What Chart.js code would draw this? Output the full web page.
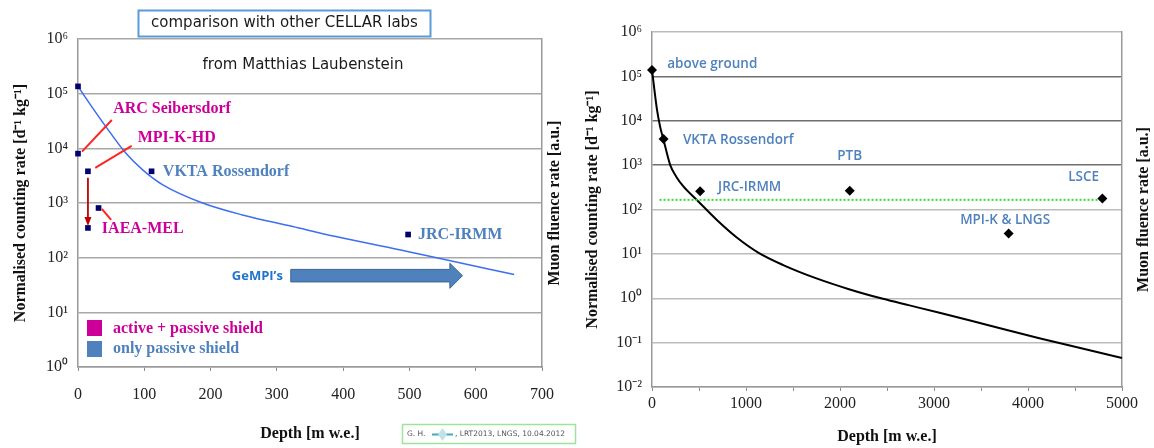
<!DOCTYPE html>
<html>
<head>
<meta charset="utf-8">
<script src="https://cdn.jsdelivr.net/npm/chart.js@4.4.1/dist/chart.umd.min.js"></script>
<style>
html,body{margin:0;padding:0;background:#fff;}
#wrap{position:relative;width:1154px;height:448px;overflow:hidden;}
.pane{position:absolute;top:0;height:448px;}
</style>
</head>
<body>
<div id="wrap">
  <div class="pane" style="left:0;width:578px;"><canvas id="c1"></canvas></div>
  <div class="pane" style="left:578px;width:576px;"><canvas id="c2"></canvas></div>
</div>
<script>
// ================= DATA =================
// Left panel: comparison with other CELLAR labs (depth 0..700 m w.e.)
const leftTickValues = [1, 10, 100, 1000, 10000, 100000, 1000000];
const leftTickLabels = ['10⁰', '10¹', '10²', '10³', '10⁴', '10⁵', '10⁶'];
const leftLabNames = ['above ground', 'ARC Seibersdorf', 'MPI-K-HD', 'MPI-K-HD (active)', 'IAEA-MEL', 'VKTA Rossendorf', 'JRC-IRMM'];
const leftLabDepth = [0, 0, 15, 15, 31, 111, 498];
const leftLabRate  = [136000, 8000, 3800, 350, 810, 3800, 265];
const leftCurveDepth = [0, 22, 42, 72, 98, 128, 188, 248, 324, 389, 497, 541, 658];
const leftCurveRate  = [136000, 55000, 25000, 8200, 4000, 2150, 1000, 605, 370, 243, 130, 100, 49];

// Right panel: labs vs depth (0..5000 m w.e.)
const rightTickValues = [0.01, 0.1, 1, 10, 100, 1000, 10000, 100000, 1000000];
const rightTickLabels = ['10⁻²', '10⁻¹', '10⁰', '10¹', '10²', '10³', '10⁴', '10⁵', '10⁶'];
const rightLabNames = ['above ground', 'VKTA Rossendorf', 'JRC-IRMM', 'PTB', 'MPI-K & LNGS', 'LSCE'];
const rightLabDepth = [0, 123, 512, 2104, 3794, 4791];
const rightLabRate  = [140000, 3900, 258, 265, 28.6, 178];
const rightCurveDepth = [0, 53, 88, 123, 194, 258, 336, 477, 690, 902, 1130, 1396, 1750, 2104, 2457, 2740, 3059, 3600, 4120, 4600, 5000];
const rightCurveRate  = [140000, 17800, 7100, 3700, 1000, 550, 327, 164, 58, 23.4, 10.7, 5.6, 2.8, 1.58, 0.97, 0.69, 0.47, 0.24, 0.126, 0.072, 0.045];
const levelDepth = [80, 4840];
const levelRate  = [165, 165];

// ================= STYLE / ANNOTATIONS =================
const SERIF = "'Liberation Serif','Times New Roman',serif";
const SANS = "'Open Sans','Noto Sans',sans-serif";
Chart.defaults.font.family = SERIF;
Chart.defaults.color = '#222';

const MAG = '#cc0099', STEEL = '#4f81bd';
const leftNotes = [
  {text: 'ARC Seibersdorf', x: 53, y: 53000, color: MAG},
  {text: 'MPI-K-HD', x: 90, y: 15600, color: MAG},
  {text: 'VKTA Rossendorf', x: 128, y: 3700, color: STEEL},
  {text: 'IAEA-MEL', x: 36, y: 336, color: MAG},
  {text: 'JRC-IRMM', x: 513, y: 261, color: STEEL}
];
const leftConnectors = [
  [6, 8700, 51, 33000],
  [26, 4400, 81, 11100],
  [36, 780, 50, 490]
];
const dropArrow = {x: 15, from: 2900, to: 380};
const gempi = {from: 321, headStart: 561, tip: 580, shaftTop: 61, shaftBottom: 36, headTop: 79, headBottom: 27.5, labelX: 232, labelY: 46};

const rightNotes = [
  {text: 'above ground', x: 162, y: 192000},
  {text: 'VKTA Rossendorf', x: 329, y: 3570},
  {text: 'JRC-IRMM', x: 703, y: 327},
  {text: 'PTB', x: 1971, y: 1560},
  {text: 'MPI-K & LNGS', x: 3278, y: 58},
  {text: 'LSCE', x: 4427, y: 542}
];

function pts(xs, ys) { return xs.map((x, i) => ({x: x, y: ys[i]})); }

function drawRightTitle(ctx, chart, x) {
  const ca = chart.chartArea;
  ctx.save();
  ctx.translate(x, (ca.top + ca.bottom) / 2);
  ctx.rotate(-Math.PI / 2);
  ctx.font = "bold 16px " + SERIF;
  ctx.fillStyle = '#111';
  ctx.textAlign = 'center';
  ctx.textBaseline = 'middle';
  ctx.fillText('Muon fluence rate [a.u.]', 0, 0);
  ctx.restore();
}

const leftDecor = {
  id: 'leftDecor',
  beforeDatasetsDraw(chart) {
    const ctx = chart.ctx, X = chart.scales.x, Y = chart.scales.y;
    const x0 = X.getPixelForValue(gempi.from), xh = X.getPixelForValue(gempi.headStart), xt = X.getPixelForValue(gempi.tip);
    const s1 = Y.getPixelForValue(gempi.shaftTop), s2 = Y.getPixelForValue(gempi.shaftBottom);
    const h1 = Y.getPixelForValue(gempi.headTop), h2 = Y.getPixelForValue(gempi.headBottom);
    const ym = (s1 + s2) / 2;
    ctx.save();
    ctx.beginPath();
    ctx.moveTo(x0, s1); ctx.lineTo(xh, s1); ctx.lineTo(xh, h1); ctx.lineTo(xt, ym);
    ctx.lineTo(xh, h2); ctx.lineTo(xh, s2); ctx.lineTo(x0, s2); ctx.closePath();
    ctx.fillStyle = '#4f81bd'; ctx.fill();
    ctx.strokeStyle = '#3a6592'; ctx.lineWidth = 1; ctx.stroke();
    ctx.font = "bold 13px " + SANS;
    ctx.fillStyle = '#1f74cc';
    ctx.textAlign = 'left'; ctx.textBaseline = 'middle';
    ctx.fillText('GeMPI’s', X.getPixelForValue(gempi.labelX), Y.getPixelForValue(gempi.labelY));
    ctx.restore();
  },
  afterDatasetsDraw(chart) {
    const ctx = chart.ctx, X = chart.scales.x, Y = chart.scales.y, ca = chart.chartArea;
    const P = (d, v) => [X.getPixelForValue(d), Y.getPixelForValue(v)];
    ctx.save();
    ctx.strokeStyle = '#ff2424'; ctx.lineWidth = 2;
    leftConnectors.forEach(c => {
      const a = P(c[0], c[1]), b = P(c[2], c[3]);
      ctx.beginPath(); ctx.moveTo(a[0], a[1]); ctx.lineTo(b[0], b[1]); ctx.stroke();
    });
    const a = P(dropArrow.x, dropArrow.from), b = P(dropArrow.x, dropArrow.to);
    ctx.strokeStyle = '#c00000'; ctx.fillStyle = '#c00000'; ctx.lineWidth = 1.8;
    ctx.beginPath(); ctx.moveTo(a[0], a[1]); ctx.lineTo(b[0], b[1] - 5); ctx.stroke();
    ctx.beginPath(); ctx.moveTo(b[0] - 3.5, b[1] - 9); ctx.lineTo(b[0], b[1]); ctx.lineTo(b[0] + 3.5, b[1] - 9); ctx.closePath(); ctx.fill();

    ctx.font = "bold 16px " + SERIF;
    ctx.textAlign = 'left'; ctx.textBaseline = 'middle';
    leftNotes.forEach(n => {
      const p = P(n.x, n.y);
      ctx.fillStyle = n.color;
      ctx.fillText(n.text, p[0], p[1]);
    });

    // legend
    const lx = ca.left + 9, ly1 = ca.bottom - 47, ly2 = ca.bottom - 26;
    ctx.fillStyle = MAG; ctx.fillRect(lx, ly1, 15, 16);
    ctx.fillStyle = STEEL; ctx.fillRect(lx, ly2, 15, 16);
    ctx.fillStyle = MAG; ctx.fillText('active + passive shield', lx + 26, ly1 + 9);
    ctx.fillStyle = STEEL; ctx.fillText('only passive shield', lx + 26, ly2 + 8);

    // subtitle inside plot
    ctx.font = "15px 'DejaVu Sans',sans-serif";
    ctx.fillStyle = '#1a1a1a'; ctx.textAlign = 'center';
    ctx.fillText('from Matthias Laubenstein', 303, 65);
    ctx.restore();
  },
  afterDraw(chart) {
    const ctx = chart.ctx;
    ctx.save();
    ctx.strokeStyle = '#5b9bd5'; ctx.lineWidth = 2;
    ctx.strokeRect(138.5, 10.5, 292, 26);
    ctx.font = "15px 'DejaVu Sans',sans-serif";
    ctx.fillStyle = '#1a1a1a'; ctx.textAlign = 'center'; ctx.textBaseline = 'middle';
    ctx.fillText('comparison with other CELLAR labs', 284.5, 23.5);
    ctx.restore();
    drawRightTitle(ctx, chart, 555);
    // footer stamp
    ctx.save();
    ctx.strokeStyle = '#9fe39a'; ctx.lineWidth = 1.5;
    ctx.strokeRect(402.5, 424.5, 173, 19);
    ctx.font = "7.5px 'DejaVu Sans',sans-serif";
    ctx.fillStyle = '#555'; ctx.textAlign = 'left'; ctx.textBaseline = 'middle';
    ctx.fillText('G. H.', 407, 434.5);
    ctx.strokeStyle = '#4aa8b0'; ctx.lineWidth = 2;
    ctx.beginPath(); ctx.moveTo(432, 434.5); ctx.lineTo(453, 434.5); ctx.stroke();
    ctx.fillStyle = '#bfe3e6';
    ctx.beginPath(); ctx.moveTo(442.5, 428); ctx.lineTo(447, 434.5); ctx.lineTo(442.5, 441); ctx.lineTo(438, 434.5); ctx.closePath(); ctx.fill();
    ctx.fillStyle = '#555';
    ctx.fillText(', LRT2013, LNGS, 10.04.2012', 455, 434.5);
    ctx.restore();
  }
};

const rightDecor = {
  id: 'rightDecor',
  afterDatasetsDraw(chart) {
    const ctx = chart.ctx, X = chart.scales.x, Y = chart.scales.y;
    ctx.save();
    ctx.font = "600 13.5px " + SANS;
    ctx.fillStyle = STEEL; ctx.textAlign = 'left'; ctx.textBaseline = 'middle';
    rightNotes.forEach(n => ctx.fillText(n.text, X.getPixelForValue(n.x), Y.getPixelForValue(n.y)));
    ctx.restore();
  },
  afterDraw(chart) {
    drawRightTitle(chart.ctx, chart, 566);
  }
};

const axisBorder = {color: '#9a9a9a', width: 1.5};

new Chart(document.getElementById('c1'), {
  type: 'scatter',
  data: {
    datasets: [
      {label: 'muon fluence', data: pts(leftCurveDepth, leftCurveRate), showLine: true, borderColor: '#3d6ef2',
       borderWidth: 1.5, pointRadius: 0, cubicInterpolationMode: 'monotone', clip: false, order: 2},
      {label: 'labs', data: pts(leftLabDepth, leftLabRate), pointStyle: 'rect', pointRadius: 4, pointHoverRadius: 4,
       backgroundColor: '#00006e', borderColor: '#00006e', borderWidth: 0, clip: false, order: 1}
    ]
  },
  options: {
    responsive: true, maintainAspectRatio: false, animation: false,
    layout: {padding: {top: 39, left: 6, right: 0, bottom: 0}},
    plugins: {legend: {display: false}, tooltip: {enabled: false}},
    scales: {
      x: {
        type: 'linear', min: 0, max: 700,
        afterFit(s) { s.height = 81; },
        ticks: {stepSize: 100, padding: 14, font: {size: 16}, color: '#222', maxRotation: 0, autoSkip: false},
        grid: {drawOnChartArea: false, drawTicks: true, tickLength: 4, color: '#8c8c8c'},
        border: axisBorder,
        title: {display: true, text: 'Depth [m w.e.]', font: {size: 16, weight: 'bold'}, color: '#111', padding: {top: 0, bottom: 5}}
      },
      y: {
        type: 'logarithmic', min: 1, max: 1000000,
        afterFit(s) { s.width = 72; },
        afterBuildTicks(s) { s.ticks = leftTickValues.map(v => ({value: v})); },
        ticks: {callback: (v) => { const i = leftTickValues.indexOf(v); return i >= 0 ? leftTickLabels[i] : ''; },
                padding: 10, font: {size: 16}, color: '#222', autoSkip: false},
        grid: {color: '#a8a8a8', lineWidth: 1.5, drawTicks: false},
        border: axisBorder,
        title: {display: true, text: 'Normalised counting rate [d⁻¹ kg⁻¹]', font: {size: 16, weight: 'bold'}, color: '#111', padding: {top: 5, bottom: 0}}
      },
      y2: {
        type: 'linear', position: 'right', min: 0, max: 1,
        afterFit(s) { s.width = 36; },
        ticks: {display: false}, grid: {display: false}, border: axisBorder
      }
    }
  },
  plugins: [leftDecor]
});

new Chart(document.getElementById('c2'), {
  type: 'scatter',
  data: {
    datasets: [
      {label: 'muon fluence', data: pts(rightCurveDepth, rightCurveRate), showLine: true, borderColor: '#000',
       borderWidth: 2, pointRadius: 0, cubicInterpolationMode: 'monotone', clip: false, order: 3},
      {label: 'level', data: pts(levelDepth, levelRate), showLine: true, borderColor: '#33dd33', borderWidth: 2,
       borderDash: [2, 2], pointRadius: 0, clip: false, order: 2},
      {label: 'labs', data: pts(rightLabDepth, rightLabRate), pointStyle: 'rectRot', pointRadius: 5, pointHoverRadius: 5,
       backgroundColor: '#000', borderColor: '#000', borderWidth: 0, clip: false, order: 1}
    ]
  },
  options: {
    responsive: true, maintainAspectRatio: false, animation: false,
    layout: {padding: {top: 32, left: 0, right: 0, bottom: 0}},
    plugins: {legend: {display: false}, tooltip: {enabled: false}},
    scales: {
      x: {
        type: 'linear', min: 0, max: 5000,
        afterFit(s) { s.height = 61; },
        ticks: {stepSize: 500, padding: 3, font: {size: 16}, color: '#222', maxRotation: 0, autoSkip: false,
                callback: (v) => (v % 1000 === 0 ? String(v) : '')},
        grid: {drawOnChartArea: false, drawTicks: true, tickLength: 4, color: '#8c8c8c'},
        border: axisBorder,
        title: {display: true, text: 'Depth [m w.e.]', font: {size: 16, weight: 'bold'}, color: '#111', padding: {top: 0, bottom: 2}}
      },
      y: {
        type: 'logarithmic', min: 0.01, max: 1000000,
        afterFit(s) { s.width = 74; },
        afterBuildTicks(s) { s.ticks = rightTickValues.map(v => ({value: v})); },
        ticks: {callback: (v) => { const i = rightTickValues.indexOf(v); return i >= 0 ? rightTickLabels[i] : ''; },
                padding: 10, font: {size: 16}, color: '#222', autoSkip: false},
        grid: {color: (c) => (c.tick && c.tick.value >= 1000 && c.tick.value <= 100000) ? '#6e6e6e' : '#bcbcbc',
               lineWidth: 1.5, drawTicks: false},
        border: axisBorder,
        title: {display: true, text: 'Normalised counting rate [d⁻¹ kg⁻¹]', font: {size: 16, weight: 'bold'}, color: '#111', padding: {top: 5, bottom: 0}}
      },
      y2: {
        type: 'linear', position: 'right', min: 0, max: 1,
        afterFit(s) { s.width = 32; },
        ticks: {display: false}, grid: {display: false}, border: axisBorder
      }
    }
  },
  plugins: [rightDecor]
});
</script>
</body>
</html>
